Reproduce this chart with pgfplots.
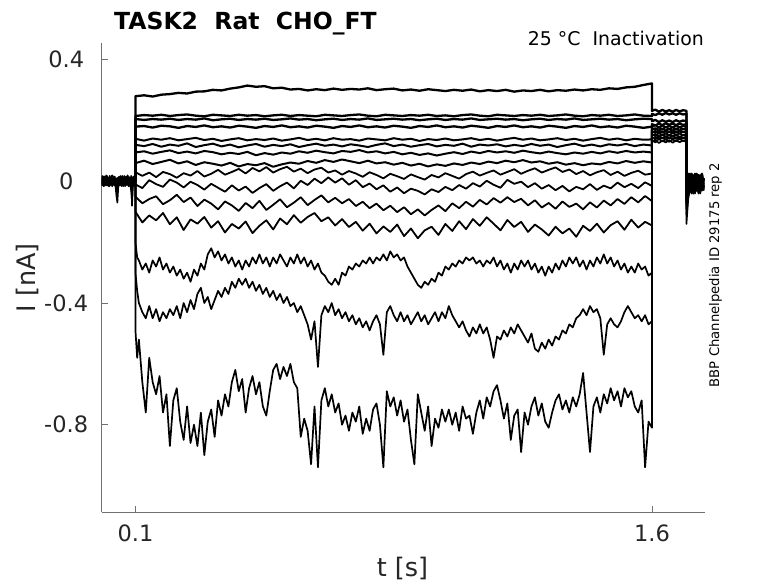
\documentclass[border=0pt]{standalone}
\usepackage{fontspec}
\setmainfont{DejaVu Sans}
\usepackage{pgfplots}
\usepackage{pgfplotstable}
\pgfplotsset{compat=1.18}
\definecolor{txt}{HTML}{262626}
\definecolor{axc}{HTML}{707070}

% baseline before the step (three overlapping sweeps)
\pgfplotstableread{
t p q r
0.0000 0.012 -0.010 0.004
0.0025 -0.014 0.016 -0.012
0.0050 0.018 -0.008 0.014
0.0075 -0.006 0.014 -0.016
0.0100 0.016 -0.015 0.010
0.0125 -0.012 0.010 -0.008
0.0150 0.020 -0.012 0.016
0.0175 -0.010 0.018 -0.014
0.0200 0.014 -0.006 0.012
0.0225 -0.016 0.012 -0.010
0.0250 0.010 -0.016 0.018
0.0275 -0.008 0.014 -0.012
0.0300 0.018 -0.010 0.008
0.0325 -0.014 0.020 -0.016
0.0350 0.012 -0.012 0.014
0.0375 -0.010 0.016 -0.006
0.0400 0.016 -0.014 0.012
0.0425 -0.020 0.008 -0.018
0.0450 -0.050 -0.030 0.010
0.0475 -0.070 0.012 -0.040
0.0500 -0.020 -0.016 -0.012
0.0525 0.014 0.010 0.016
0.0550 -0.012 -0.014 -0.010
0.0575 0.018 0.016 0.012
0.0600 -0.008 -0.010 -0.016
0.0625 0.012 0.018 0.010
0.0650 -0.016 -0.012 -0.014
0.0675 0.010 0.014 0.018
0.0700 -0.014 -0.016 -0.008
0.0725 0.016 0.012 0.014
0.0750 -0.010 -0.008 -0.012
0.0775 0.020 0.016 0.010
0.0800 -0.012 -0.014 -0.016
0.0825 0.014 0.010 0.012
0.0850 -0.018 -0.012 -0.010
0.0875 0.010 0.018 -0.030
0.0900 -0.080 -0.010 -0.060
0.0925 -0.020 0.014 0.010
0.0950 0.016 -0.016 -0.014
0.0975 -0.010 0.012 0.016
0.1000 0.008 -0.006 0.000
}\pre

% small sweeps T1-T8
\pgfplotstableread{
t h i j k l m n o
0.100 0 0 0 0 0 0 0 0
0.100 0.280 0.215 0.205 0.180 0.140 0.120 0.095 0.060
0.125 0.283 0.218 0.202 0.182 0.134 0.116 0.099 0.068
0.150 0.279 0.216 0.205 0.177 0.141 0.123 0.091 0.057
0.175 0.285 0.219 0.203 0.183 0.137 0.114 0.097 0.064
0.200 0.287 0.215 0.206 0.181 0.142 0.121 0.102 0.071
0.225 0.291 0.218 0.202 0.176 0.135 0.117 0.093 0.059
0.250 0.289 0.220 0.205 0.182 0.139 0.125 0.098 0.066
0.275 0.295 0.216 0.203 0.179 0.143 0.113 0.092 0.054
0.300 0.296 0.214 0.207 0.184 0.136 0.119 0.100 0.063
0.325 0.301 0.219 0.201 0.178 0.140 0.124 0.096 0.058
0.350 0.299 0.217 0.204 0.181 0.133 0.115 0.089 0.052
0.375 0.305 0.215 0.206 0.177 0.138 0.121 0.094 0.061
0.400 0.309 0.219 0.202 0.183 0.142 0.112 0.090 0.049
0.425 0.315 0.216 0.205 0.180 0.135 0.118 0.097 0.057
0.450 0.311 0.218 0.203 0.176 0.139 0.123 0.086 0.053
0.475 0.313 0.214 0.206 0.182 0.136 0.114 0.093 0.060
0.500 0.306 0.217 0.202 0.179 0.141 0.120 0.088 0.048
0.525 0.308 0.219 0.204 0.184 0.134 0.116 0.095 0.056
0.550 0.302 0.215 0.207 0.178 0.138 0.122 0.091 0.062
0.575 0.304 0.218 0.203 0.181 0.143 0.113 0.099 0.058
0.600 0.299 0.216 0.205 0.177 0.136 0.119 0.094 0.067
0.625 0.303 0.214 0.201 0.183 0.140 0.124 0.101 0.061
0.650 0.300 0.219 0.204 0.180 0.135 0.117 0.096 0.070
0.675 0.305 0.217 0.206 0.176 0.142 0.121 0.092 0.064
0.700 0.301 0.215 0.202 0.182 0.137 0.115 0.100 0.072
0.725 0.304 0.218 0.205 0.179 0.139 0.122 0.097 0.066
0.750 0.302 0.220 0.203 0.184 0.134 0.118 0.103 0.060
0.775 0.306 0.216 0.207 0.178 0.141 0.113 0.095 0.068
0.800 0.300 0.214 0.202 0.181 0.138 0.120 0.099 0.059
0.825 0.303 0.219 0.204 0.177 0.135 0.125 0.092 0.063
0.850 0.305 0.217 0.206 0.183 0.142 0.116 0.097 0.055
0.875 0.299 0.215 0.203 0.180 0.137 0.121 0.089 0.061
0.900 0.302 0.218 0.205 0.176 0.140 0.114 0.094 0.052
0.925 0.298 0.216 0.201 0.182 0.133 0.119 0.087 0.058
0.950 0.303 0.219 0.204 0.179 0.139 0.123 0.092 0.049
0.975 0.300 0.215 0.206 0.184 0.136 0.115 0.085 0.056
1.000 0.297 0.217 0.202 0.178 0.141 0.120 0.091 0.051
1.025 0.301 0.214 0.205 0.181 0.135 0.117 0.096 0.059
1.050 0.298 0.218 0.203 0.177 0.138 0.124 0.090 0.054
1.075 0.302 0.220 0.207 0.183 0.142 0.114 0.098 0.062
1.100 0.296 0.216 0.202 0.180 0.136 0.121 0.093 0.057
1.125 0.300 0.214 0.204 0.176 0.140 0.118 0.100 0.065
1.150 0.297 0.219 0.206 0.182 0.134 0.122 0.095 0.060
1.175 0.301 0.217 0.203 0.179 0.139 0.115 0.099 0.068
1.200 0.295 0.215 0.205 0.184 0.143 0.120 0.094 0.063
1.225 0.299 0.218 0.201 0.178 0.137 0.116 0.101 0.070
1.250 0.297 0.216 0.204 0.181 0.141 0.123 0.096 0.062
1.275 0.301 0.219 0.206 0.177 0.135 0.117 0.092 0.066
1.300 0.296 0.215 0.202 0.183 0.138 0.121 0.098 0.058
1.325 0.300 0.217 0.205 0.180 0.142 0.113 0.093 0.063
1.350 0.298 0.220 0.203 0.176 0.136 0.119 0.089 0.055
1.375 0.302 0.216 0.207 0.182 0.140 0.124 0.095 0.060
1.400 0.299 0.214 0.202 0.179 0.134 0.116 0.091 0.053
1.425 0.303 0.218 0.204 0.184 0.139 0.121 0.097 0.059
1.450 0.301 0.216 0.206 0.178 0.143 0.115 0.092 0.056
1.475 0.306 0.219 0.203 0.181 0.137 0.122 0.099 0.064
1.500 0.304 0.215 0.205 0.177 0.141 0.118 0.094 0.059
1.525 0.309 0.217 0.201 0.183 0.135 0.123 0.100 0.067
1.550 0.311 0.220 0.204 0.180 0.140 0.116 0.095 0.061
1.575 0.317 0.216 0.206 0.176 0.137 0.121 0.098 0.066
1.600 0.322 0.215 0.205 0.180 0.138 0.118 0.095 0.062
1.600 0.232 0.222 0.198 0.188 0.18 0.175 0.17 0.165
1.610 0.236 0.218 0.202 0.184 0.185 0.17 0.175 0.16
1.620 0.229 0.224 0.195 0.19 0.177 0.178 0.166 0.168
1.630 0.235 0.219 0.201 0.185 0.184 0.171 0.174 0.161
1.640 0.23 0.225 0.196 0.191 0.178 0.179 0.167 0.167
1.650 0.234 0.22 0.2 0.186 0.183 0.172 0.173 0.162
1.660 0.229 0.224 0.195 0.19 0.177 0.178 0.166 0.168
1.670 0.235 0.219 0.201 0.185 0.184 0.171 0.174 0.161
1.680 0.23 0.224 0.196 0.19 0.178 0.178 0.167 0.167
1.690 0.234 0.22 0.2 0.186 0.182 0.172 0.172 0.162
1.700 0.232 0.222 0.198 0.188 0.18 0.175 0.17 0.165
1.700 -0.02 -0.04 -0.01 -0.05 -0.03 -0.07 -0.02 -0.06
1.705 0.02 0.0 0.025 -0.01 0.015 -0.02 0.02 -0.015
1.710 -0.01 0.025 -0.02 0.02 -0.025 0.015 -0.03 0.01
1.715 0.025 -0.02 0.015 -0.03 0.02 -0.035 0.01 -0.03
1.720 -0.025 0.015 -0.03 0.01 -0.02 0.01 -0.02 0.02
1.725 0.015 -0.03 0.02 -0.02 0.025 -0.025 0.025 -0.01
1.730 -0.03 0.01 -0.025 0.025 -0.015 0.02 -0.03 0.015
1.735 0.02 -0.025 0.01 -0.035 0.02 -0.03 0.015 -0.025
1.740 -0.015 0.02 -0.03 0.015 -0.03 0.015 -0.02 0.02
1.745 0.02 -0.015 0.025 -0.02 0.01 -0.02 0.025 -0.03
1.750 -0.02 0.01 -0.02 0.01 -0.025 0.01 -0.01 0.005
}\grpA

% middle sweeps T9-T12
\pgfplotstableread{
t d e f g
0.10 0 0 0 0
0.10 0.030 -0.010 -0.050 -0.100
0.12 0.018 -0.022 -0.072 -0.135
0.14 0.029 0.004 -0.058 -0.112
0.16 0.014 -0.009 -0.049 -0.128
0.18 0.031 -0.018 -0.075 -0.104
0.20 0.024 0.006 -0.062 -0.141
0.22 0.012 -0.004 -0.044 -0.118
0.24 0.027 -0.020 -0.068 -0.160
0.26 0.019 -0.001 -0.053 -0.125
0.28 0.034 -0.012 -0.081 -0.139
0.30 0.016 -0.027 -0.060 -0.117
0.32 0.025 -0.008 -0.073 -0.152
0.34 0.038 -0.021 -0.092 -0.131
0.36 0.022 -0.034 -0.066 -0.168
0.38 0.031 -0.013 -0.079 -0.140
0.40 0.041 -0.030 -0.097 -0.155
0.42 0.026 -0.017 -0.071 -0.132
0.44 0.044 -0.038 -0.088 -0.170
0.46 0.033 -0.022 -0.064 -0.146
0.48 0.047 -0.009 -0.094 -0.128
0.50 0.029 -0.031 -0.077 -0.158
0.52 0.040 -0.016 -0.059 -0.122
0.54 0.048 -0.004 -0.085 -0.141
0.56 0.032 -0.023 -0.070 -0.111
0.58 0.042 0.002 -0.052 -0.136
0.60 0.027 -0.012 -0.078 -0.117
0.62 0.039 0.009 -0.061 -0.104
0.64 0.045 -0.006 -0.046 -0.131
0.66 0.029 0.013 -0.069 -0.118
0.68 0.036 -0.004 -0.054 -0.145
0.70 0.022 0.010 -0.072 -0.124
0.72 0.034 -0.011 -0.058 -0.150
0.74 0.026 0.004 -0.081 -0.133
0.76 0.015 -0.019 -0.067 -0.162
0.78 0.030 -0.007 -0.088 -0.139
0.80 0.021 -0.026 -0.073 -0.171
0.82 0.010 -0.013 -0.095 -0.148
0.84 0.025 -0.034 -0.080 -0.166
0.86 0.017 -0.020 -0.101 -0.142
0.88 0.008 -0.039 -0.085 -0.180
0.90 0.023 -0.024 -0.108 -0.155
0.92 0.014 -0.031 -0.092 -0.187
0.94 0.006 -0.043 -0.112 -0.161
0.96 0.021 -0.026 -0.094 -0.149
0.98 0.013 -0.035 -0.079 -0.176
1.00 0.027 -0.018 -0.098 -0.140
1.02 0.018 -0.029 -0.072 -0.163
1.04 0.009 -0.012 -0.088 -0.131
1.06 0.024 -0.024 -0.067 -0.157
1.08 0.032 -0.006 -0.083 -0.124
1.10 0.019 -0.017 -0.061 -0.146
1.12 0.028 0.002 -0.076 -0.118
1.14 0.036 -0.011 -0.055 -0.139
1.16 0.022 -0.021 -0.070 -0.161
1.18 0.031 0.005 -0.052 -0.127
1.20 0.040 -0.008 -0.068 -0.150
1.22 0.025 -0.001 -0.057 -0.133
1.24 0.035 -0.019 -0.079 -0.166
1.26 0.043 -0.006 -0.062 -0.142
1.28 0.029 -0.024 -0.086 -0.158
1.30 0.038 -0.012 -0.071 -0.178
1.32 0.046 -0.029 -0.090 -0.149
1.34 0.031 -0.015 -0.066 -0.171
1.36 0.039 -0.033 -0.084 -0.155
1.38 0.024 -0.018 -0.073 -0.182
1.40 0.034 -0.026 -0.092 -0.146
1.42 0.020 -0.009 -0.069 -0.163
1.44 0.030 -0.028 -0.086 -0.139
1.46 0.037 -0.014 -0.063 -0.168
1.48 0.021 -0.023 -0.079 -0.144
1.50 0.032 -0.004 -0.058 -0.131
1.52 0.018 -0.019 -0.074 -0.159
1.54 0.028 -0.008 -0.052 -0.126
1.56 0.035 -0.022 -0.069 -0.152
1.58 0.022 -0.003 -0.048 -0.133
1.60 0.026 -0.015 -0.065 -0.145
1.60 0.16 0.155 0.15 0.145
1.61 0.166 0.149 0.156 0.139
1.62 0.157 0.160 0.144 0.150
1.63 0.165 0.151 0.155 0.141
1.64 0.156 0.159 0.145 0.149
1.65 0.164 0.150 0.154 0.142
1.66 0.158 0.160 0.146 0.150
1.67 0.165 0.152 0.155 0.140
1.68 0.157 0.158 0.144 0.148
1.69 0.163 0.151 0.153 0.142
1.70 0.16 0.156 0.148 0.146
1.700 -0.03 -0.05 -0.08 -0.11
1.705 0.01 -0.01 -0.03 -0.05
1.710 -0.02 0.02 0.00 -0.03
1.715 0.02 -0.03 0.02 0.01
1.720 -0.03 0.01 -0.04 -0.02
1.725 0.02 -0.02 0.01 0.02
1.730 -0.02 0.02 -0.03 -0.03
1.735 0.01 -0.03 0.02 0.01
1.740 -0.03 0.01 -0.02 -0.04
1.745 0.02 -0.02 0.01 0.00
1.750 -0.01 0.01 -0.03 -0.02
}\grpB

% large sweeps T13-T15
\pgfplotstableread{
t a b c
0.100 0 0 0
0.100 -0.20 -0.30 -0.49
0.105 -0.25 -0.36 -0.58
0.110 -0.26 -0.40 -0.52
0.120 -0.29 -0.43 -0.66
0.130 -0.27 -0.45 -0.76
0.140 -0.30 -0.41 -0.58
0.150 -0.26 -0.45 -0.66
0.160 -0.28 -0.42 -0.70
0.170 -0.25 -0.46 -0.64
0.180 -0.29 -0.43 -0.76
0.190 -0.27 -0.45 -0.70
0.200 -0.30 -0.42 -0.87
0.210 -0.28 -0.44 -0.72
0.220 -0.31 -0.41 -0.68
0.230 -0.29 -0.45 -0.79
0.240 -0.32 -0.40 -0.85
0.250 -0.30 -0.43 -0.74
0.260 -0.33 -0.39 -0.86
0.270 -0.29 -0.42 -0.80
0.280 -0.31 -0.37 -0.87
0.290 -0.27 -0.35 -0.76
0.300 -0.29 -0.40 -0.90
0.310 -0.24 -0.38 -0.79
0.320 -0.22 -0.42 -0.75
0.330 -0.25 -0.39 -0.84
0.340 -0.23 -0.36 -0.72
0.350 -0.26 -0.38 -0.77
0.360 -0.24 -0.35 -0.70
0.370 -0.27 -0.37 -0.74
0.380 -0.25 -0.33 -0.66
0.390 -0.28 -0.35 -0.62
0.400 -0.26 -0.32 -0.69
0.410 -0.29 -0.34 -0.65
0.420 -0.26 -0.32 -0.76
0.430 -0.28 -0.35 -0.68
0.440 -0.25 -0.33 -0.64
0.450 -0.27 -0.36 -0.70
0.460 -0.24 -0.34 -0.66
0.470 -0.27 -0.37 -0.74
0.480 -0.25 -0.35 -0.77
0.490 -0.28 -0.38 -0.69
0.500 -0.25 -0.36 -0.62
0.510 -0.27 -0.39 -0.60
0.520 -0.24 -0.37 -0.65
0.530 -0.26 -0.40 -0.61
0.540 -0.28 -0.38 -0.64
0.550 -0.25 -0.41 -0.60
0.560 -0.27 -0.40 -0.66
0.570 -0.24 -0.43 -0.68
0.580 -0.27 -0.41 -0.84
0.590 -0.25 -0.44 -0.78
0.600 -0.28 -0.47 -0.82
0.610 -0.26 -0.52 -0.93
0.620 -0.29 -0.46 -0.74
0.630 -0.27 -0.61 -0.94
0.640 -0.30 -0.44 -0.72
0.650 -0.31 -0.41 -0.68
0.660 -0.33 -0.43 -0.74
0.670 -0.34 -0.40 -0.70
0.680 -0.32 -0.44 -0.76
0.690 -0.34 -0.42 -0.73
0.700 -0.30 -0.45 -0.80
0.710 -0.31 -0.43 -0.77
0.720 -0.28 -0.46 -0.82
0.730 -0.29 -0.44 -0.76
0.740 -0.27 -0.47 -0.79
0.750 -0.28 -0.45 -0.74
0.760 -0.26 -0.48 -0.83
0.770 -0.27 -0.46 -0.78
0.780 -0.25 -0.49 -0.82
0.790 -0.27 -0.46 -0.75
0.800 -0.25 -0.44 -0.73
0.810 -0.26 -0.47 -0.80
0.820 -0.24 -0.57 -0.94
0.830 -0.26 -0.43 -0.69
0.840 -0.23 -0.41 -0.74
0.850 -0.25 -0.44 -0.71
0.860 -0.24 -0.46 -0.77
0.870 -0.26 -0.43 -0.72
0.880 -0.25 -0.46 -0.79
0.890 -0.28 -0.44 -0.75
0.900 -0.30 -0.47 -0.85
0.910 -0.32 -0.45 -0.93
0.920 -0.34 -0.43 -0.70
0.930 -0.35 -0.46 -0.76
0.940 -0.33 -0.44 -0.82
0.950 -0.34 -0.47 -0.74
0.960 -0.32 -0.45 -0.87
0.970 -0.33 -0.43 -0.78
0.980 -0.30 -0.46 -0.81
0.990 -0.31 -0.43 -0.75
1.000 -0.28 -0.45 -0.79
1.010 -0.29 -0.41 -0.75
1.020 -0.27 -0.44 -0.80
1.030 -0.28 -0.46 -0.76
1.040 -0.26 -0.48 -0.82
1.050 -0.27 -0.46 -0.74
1.060 -0.25 -0.49 -0.78
1.070 -0.26 -0.51 -0.77
1.080 -0.25 -0.48 -0.83
1.090 -0.27 -0.50 -0.76
1.100 -0.26 -0.47 -0.72
1.110 -0.28 -0.50 -0.78
1.120 -0.26 -0.48 -0.71
1.130 -0.27 -0.52 -0.74
1.140 -0.25 -0.58 -0.69
1.150 -0.28 -0.51 -0.67
1.160 -0.26 -0.52 -0.72
1.170 -0.29 -0.49 -0.78
1.180 -0.27 -0.51 -0.73
1.190 -0.30 -0.48 -0.85
1.200 -0.27 -0.50 -0.77
1.210 -0.29 -0.47 -0.75
1.220 -0.26 -0.49 -0.89
1.230 -0.28 -0.51 -0.76
1.240 -0.26 -0.53 -0.80
1.250 -0.29 -0.50 -0.74
1.260 -0.27 -0.55 -0.71
1.270 -0.30 -0.56 -0.77
1.280 -0.28 -0.53 -0.73
1.290 -0.31 -0.55 -0.79
1.300 -0.28 -0.52 -0.81
1.310 -0.30 -0.54 -0.76
1.320 -0.27 -0.51 -0.72
1.330 -0.29 -0.52 -0.70
1.340 -0.26 -0.49 -0.75
1.350 -0.28 -0.50 -0.72
1.360 -0.25 -0.47 -0.76
1.370 -0.27 -0.48 -0.71
1.380 -0.25 -0.45 -0.74
1.390 -0.28 -0.44 -0.70
1.400 -0.26 -0.42 -0.63
1.410 -0.29 -0.44 -0.76
1.420 -0.26 -0.41 -0.89
1.430 -0.28 -0.43 -0.74
1.440 -0.25 -0.42 -0.71
1.450 -0.27 -0.45 -0.76
1.460 -0.24 -0.57 -0.70
1.470 -0.27 -0.47 -0.73
1.480 -0.25 -0.45 -0.68
1.490 -0.28 -0.47 -0.72
1.500 -0.26 -0.48 -0.69
1.510 -0.29 -0.46 -0.74
1.520 -0.27 -0.43 -0.68
1.530 -0.30 -0.41 -0.71
1.540 -0.28 -0.43 -0.69
1.550 -0.30 -0.45 -0.74
1.560 -0.27 -0.44 -0.76
1.570 -0.29 -0.46 -0.72
1.580 -0.28 -0.44 -0.94
1.590 -0.31 -0.47 -0.79
1.600 -0.30 -0.46 -0.81
1.600 0.14 0.135 0.13
1.610 0.146 0.128 0.137
1.620 0.138 0.140 0.126
1.630 0.144 0.131 0.134
1.640 0.137 0.139 0.128
1.650 0.145 0.130 0.136
1.660 0.139 0.138 0.127
1.670 0.146 0.132 0.135
1.680 0.138 0.140 0.129
1.690 0.143 0.133 0.134
1.700 0.140 0.137 0.130
1.700 -0.06 -0.09 -0.14
1.705 -0.02 -0.04 -0.06
1.710 0.01 -0.03 -0.02
1.715 -0.03 0.02 -0.04
1.720 0.02 -0.04 0.01
1.725 -0.04 0.01 -0.03
1.730 0.01 -0.03 0.02
1.735 -0.03 0.02 -0.04
1.740 0.02 -0.02 0.00
1.745 -0.02 0.01 -0.03
1.750 0.01 -0.03 0.01
}\grpC

\begin{document}
\begin{tikzpicture}
\path[use as bounding box] (-101.7pt,-70.7pt) rectangle (676.3pt,512.3pt);
\begin{axis}[name=ax, at={(0pt,0pt)}, anchor=south west,
  scale only axis, width=603.3pt, height=469.3pt,
  xmin=0.002, xmax=1.754, ymin=-1.088, ymax=0.455,
  axis lines*=left,
  axis line style={axc, line width=0.7pt},
  xtick={0.1,1.6}, xticklabels={0.1,1.6},
  ytick={-0.8,-0.4,0,0.4}, yticklabels={-0.8,-0.4,0,0.4},
  tick align=inside, major tick length=6pt,
  tick style={axc, line width=0.7pt},
  xticklabel style={font=\fontsize{22.5}{27}\selectfont, text=txt, anchor=base, yshift=-29.5pt},
  yticklabel style={font=\fontsize{22.5}{27}\selectfont, text=txt, anchor=center, xshift=-35.5pt},
  tr/.style={black, line width=1.7pt, line join=round, mark=none},
]
\pgfplotsinvokeforeach{p,q,r}{\addplot[tr, line width=1.6pt] table[x=t,y=#1]{\pre};}
\pgfplotsinvokeforeach{h,i,j,k}{\addplot[tr, line width=2.3pt] table[x=t,y=#1]{\grpA};}
\pgfplotsinvokeforeach{l,m,n,o}{\addplot[tr, line width=2.0pt] table[x=t,y=#1]{\grpA};}
\pgfplotsinvokeforeach{d,e,f,g}{\addplot[tr, line width=1.8pt] table[x=t,y=#1]{\grpB};}
\pgfplotsinvokeforeach{a,b,c}{\addplot[tr] table[x=t,y=#1]{\grpC};}
\end{axis}
\node[anchor=base west, inner sep=0pt, font=\fontsize{23.5}{28}\selectfont\bfseries, text=black] at ([xshift=12.3pt, yshift=13pt]ax.north west) {TASK2\ \ Rat\ \ CHO\_FT};
\node[anchor=base east, inner sep=0pt, font=\fontsize{18.9}{23}\selectfont, text=black] at ([xshift=-1pt, yshift=-3pt]ax.north east) {25 °C\ \ Inactivation};
\node[rotate=90, inner sep=0pt, font=\fontsize{13.2}{16}\selectfont, text=black] at ([xshift=10.5pt, yshift=2.5pt]ax.east) {BBP Channelpedia ID 29175 rep 2};
\node[rotate=90, inner sep=0pt, font=\fontsize{25.5}{30}\selectfont, text=txt] at ([xshift=-74pt]ax.west) {I [nA]};
\node[anchor=base, inner sep=0pt, font=\fontsize{25.5}{30}\selectfont, text=txt] at ([xshift=-0.8pt, yshift=-64pt]ax.south) {t [s]};
\end{tikzpicture}
\end{document}
